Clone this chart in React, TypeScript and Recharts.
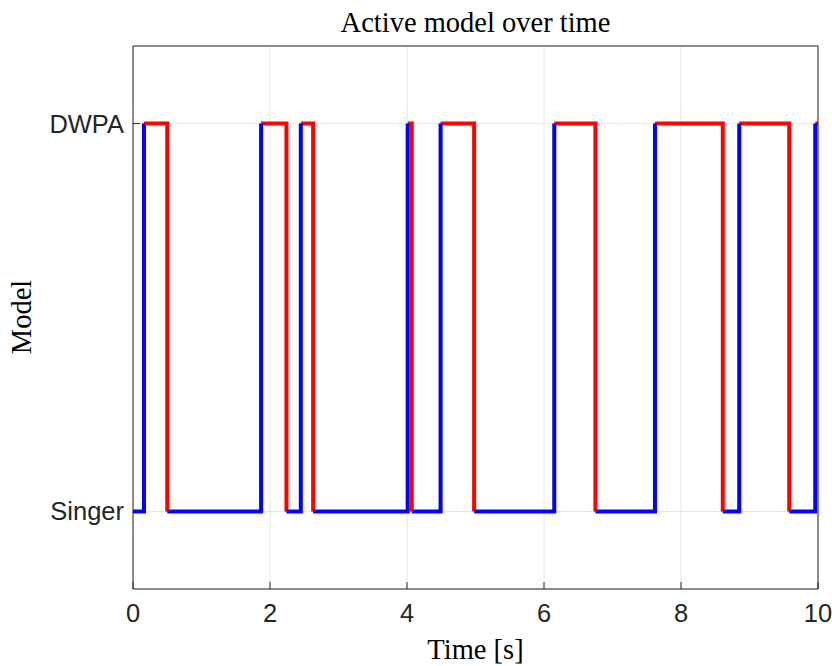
import { LineChart, Line, XAxis, YAxis, CartesianGrid } from 'recharts';

// active model: 1 = Singer, 2 = DWPA
const modelNames: Record<number, string> = { 1: 'Singer', 2: 'DWPA' };
const switchTimes = [0, 0.16, 0.5, 1.87, 2.24, 2.45, 2.63, 4.01, 4.07, 4.49, 4.98, 6.15, 6.75, 7.62, 8.61, 8.85, 9.58, 9.96];
const activeModel = [1, 2, 1, 2, 1, 2, 1, 2, 1, 2, 1, 2, 1, 2, 1, 2, 1, 2];
const endTime = 10;
const xTicks = [0, 2, 4, 6, 8, 10];
const yTicks = [1, 2];

type Pt = { t: number; y: number | null };

// each colour draws its own stretch plus the jump that ends it
const buildSegments = (model: number) => {
    const pts: Pt[] = [];
    activeModel.forEach((m, i) => {
        if (m !== model) return;
        const t0 = switchTimes[i];
        const t1 = i + 1 < switchTimes.length ? switchTimes[i + 1] : endTime;
        pts.push({ t: t0, y: m });
        pts.push({ t: t1, y: m });
        if (i + 1 < activeModel.length) pts.push({ t: t1, y: activeModel[i + 1] });
        pts.push({ t: t1, y: null });
    });
    return pts;
};

const singerData = buildSegments(1);
const dwpaData = buildSegments(2);

const axisColor = '#262626';
const serif = '"Liberation Serif", "DejaVu Serif", serif';
const sans = '"Liberation Sans", Arial, sans-serif';

const App = () => {
    return (
        <div style={{ position: 'absolute', left: 0, top: 0, width: 832, height: 666, background: '#fff' }}>
            <LineChart width={832} height={666} margin={{ top: 45, right: 0, bottom: 0, left: 0 }}>
                <CartesianGrid stroke="#e6e6e6" strokeWidth={1} />
                <XAxis
                    dataKey="t"
                    type="number"
                    domain={[0, endTime]}
                    ticks={xTicks}
                    allowDuplicatedCategory={false}
                    height={77}
                    stroke={axisColor}
                    tickSize={-7}
                    tickMargin={22}
                    tick={{ fill: axisColor, fontSize: 25.5, fontFamily: sans }}
                />
                <XAxis
                    xAxisId="top"
                    orientation="top"
                    type="number"
                    domain={[0, endTime]}
                    ticks={xTicks}
                    height={1}
                    stroke={axisColor}
                    tickSize={-7}
                    tickFormatter={() => ''}
                />
                <YAxis
                    type="number"
                    domain={[0.8, 2.2]}
                    ticks={yTicks}
                    width={133}
                    stroke={axisColor}
                    tickSize={-7}
                    tickMargin={16}
                    tickFormatter={(v: number) => modelNames[v]}
                    tick={{ fill: axisColor, fontSize: 25.5, fontFamily: sans }}
                />
                <YAxis
                    yAxisId="right"
                    orientation="right"
                    type="number"
                    domain={[0.8, 2.2]}
                    ticks={yTicks}
                    width={14}
                    stroke={axisColor}
                    tickSize={-7}
                    tickFormatter={() => ''}
                />
                <Line data={dwpaData} dataKey="y" type="linear" stroke="#ff0000" strokeWidth={4} dot={false} isAnimationActive={false} />
                <Line data={singerData} dataKey="y" type="linear" stroke="#0000ff" strokeWidth={4} dot={false} isAnimationActive={false} />
            </LineChart>
            <div style={{ position: 'absolute', left: 133, width: 685, top: 7, textAlign: 'center', fontFamily: serif, fontSize: 28.5, color: '#000' }}>
                Active model over time
            </div>
            <div style={{ position: 'absolute', left: 133, width: 685, top: 634, textAlign: 'center', fontFamily: serif, fontSize: 28.5, color: '#000' }}>
                Time [s]
            </div>
            <div style={{ position: 'absolute', left: 22, top: 317, transform: 'translate(-50%, -50%) rotate(-90deg)', fontFamily: serif, fontSize: 28.5, color: '#000', whiteSpace: 'nowrap' }}>
                Model
            </div>
        </div>
    );
};

export default App;
